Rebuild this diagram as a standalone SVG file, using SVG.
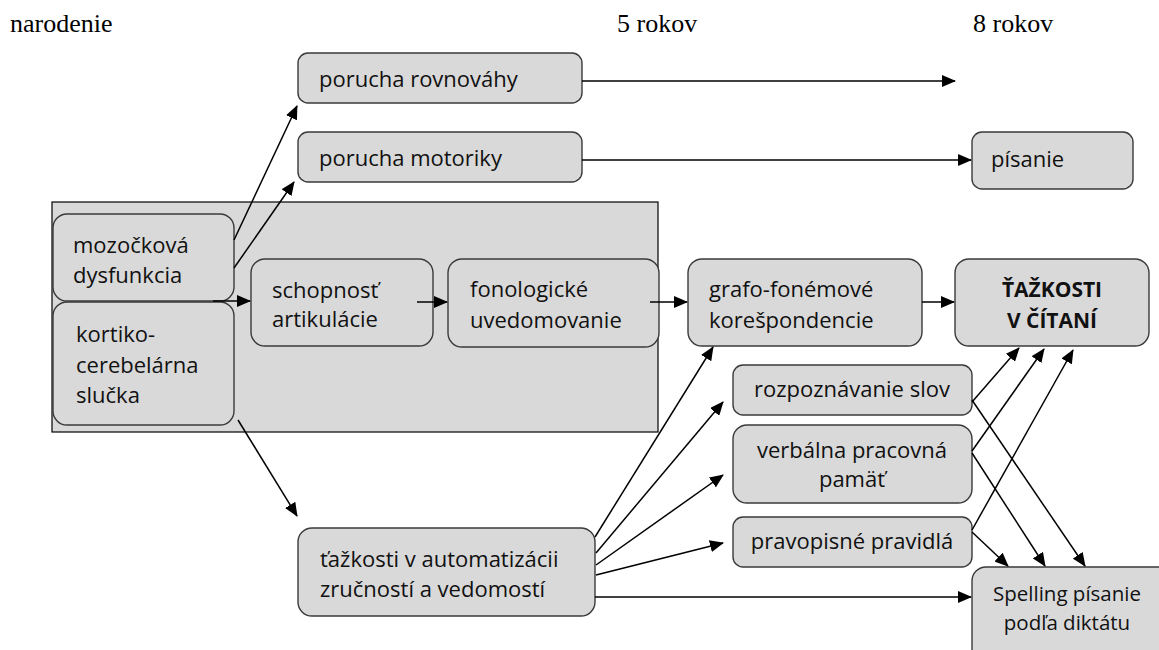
<svg xmlns="http://www.w3.org/2000/svg" width="1159" height="650" viewBox="0 0 1159 650">
<defs>
<marker id="ah" markerUnits="userSpaceOnUse" markerWidth="14" markerHeight="12" refX="13" refY="6" orient="auto">
<path d="M0,0 L14,6 L0,12 z" fill="#000"/>
</marker>
<style>
.box{fill:#d9d9d9;stroke:#3a3a3a;stroke-width:1.4}
.t{font-family:"Open Sans","Liberation Sans",sans-serif;font-size:22px;fill:#111}
.c{text-anchor:middle}
.b{font-weight:bold;font-size:21px}
.s{font-size:20.5px}
.h{font-family:"Liberation Serif","Times New Roman",serif;font-size:26px;fill:#000}
.ln{stroke:#000;stroke-width:1.5;fill:none;marker-end:url(#ah)}
</style>
</defs>
<rect width="1159" height="650" fill="#fff"/>
<text class="h" x="10" y="32">narodenie</text>
<text class="h" x="617" y="32">5 rokov</text>
<text class="h" x="973" y="32">8 rokov</text>
<g id="frame"><rect x="52" y="202" width="606" height="230" fill="#d9d9d9" stroke="#000" stroke-width="1.2"/></g>
<g id="n-rovnovahy"><rect class="box" x="298" y="53" width="284" height="50" rx="10"/><text class="t" x="319" y="87">porucha rovnováhy</text></g>
<g id="n-motoriky"><rect class="box" x="298" y="132" width="284" height="50" rx="10"/><text class="t" x="319" y="166">porucha motoriky</text></g>
<g id="n-pisanie"><rect class="box" x="972" y="132" width="161" height="57" rx="10"/><text class="t" x="991" y="167">písanie</text></g>
<g id="n-mozockova"><rect class="box" x="53" y="214" width="181" height="87" rx="14"/><text class="t" x="73" y="253">mozočková</text><text class="t" x="73" y="283">dysfunkcia</text></g>
<g id="n-kortiko"><rect class="box" x="53" y="302" width="181" height="123" rx="14"/><text class="t" x="76" y="342">kortiko-</text><text class="t" x="76" y="373">cerebelárna</text><text class="t" x="76" y="403">slučka</text></g>
<g id="n-schopnost"><rect class="box" x="251" y="259" width="182" height="87" rx="14"/><text class="t" x="272" y="298">schopnosť</text><text class="t" x="272" y="327">artikulácie</text></g>
<g id="n-fonologicke"><rect class="box" x="448" y="259" width="211" height="88" rx="14"/><text class="t" x="470" y="297">fonologické</text><text class="t" x="470" y="328">uvedomovanie</text></g>
<g id="n-grafo"><rect class="box" x="688" y="259" width="234" height="87" rx="14"/><text class="t" x="709" y="297">grafo-fonémové</text><text class="t" x="709" y="328">korešpondencie</text></g>
<g id="n-tazkosti-citani"><rect class="box" x="955" y="259" width="194" height="87" rx="14"/><text class="t c b" x="1052" y="297">ŤAŽKOSTI</text><text class="t c b" x="1052" y="328">V ČÍTANÍ</text></g>
<g id="n-rozpoznavanie"><rect class="box" x="733" y="365" width="239" height="50" rx="10"/><text class="t c" x="852" y="397">rozpoznávanie slov</text></g>
<g id="n-verbalna"><rect class="box" x="733" y="425" width="239" height="78" rx="14"/><text class="t c" x="852" y="458">verbálna pracovná</text><text class="t c" x="852" y="487">pamäť</text></g>
<g id="n-pravopisne"><rect class="box" x="733" y="517" width="239" height="50" rx="10"/><text class="t c" x="852" y="549">pravopisné pravidlá</text></g>
<g id="n-automatizacia"><rect class="box" x="298" y="528" width="297" height="88" rx="14"/><text class="t" x="320" y="567">ťažkosti v automatizácii</text><text class="t" x="320" y="597">zručností a vedomostí</text></g>
<g id="n-spelling"><rect class="box" x="972" y="567" width="200" height="100" rx="14"/><text class="t c s" x="1067" y="601">Spelling písanie</text><text class="t c s" x="1067" y="630">podľa diktátu</text></g>
<g id="connectors">
<line class="ln" x1="234" y1="240" x2="297" y2="106"/>
<line class="ln" x1="234" y1="268" x2="294" y2="182"/>
<line class="ln" x1="582" y1="81" x2="955" y2="81"/>
<line class="ln" x1="582" y1="160" x2="971" y2="160"/>
<line class="ln" x1="213" y1="301" x2="250" y2="301"/>
<line class="ln" x1="417" y1="302" x2="447" y2="302"/>
<line class="ln" x1="650" y1="302" x2="687" y2="302"/>
<line class="ln" x1="922" y1="302" x2="954" y2="302"/>
<line class="ln" x1="238" y1="420" x2="297" y2="516"/>
<line class="ln" x1="595" y1="537" x2="713" y2="347"/>
<line class="ln" x1="596" y1="553" x2="723" y2="402"/>
<line class="ln" x1="596" y1="565" x2="723" y2="475"/>
<line class="ln" x1="596" y1="575" x2="723" y2="543"/>
<line class="ln" x1="595" y1="597" x2="971" y2="597"/>
<line class="ln" x1="972" y1="402" x2="1019" y2="348"/>
<line class="ln" x1="972" y1="451" x2="1044" y2="349"/>
<line class="ln" x1="972" y1="530" x2="1073" y2="350"/>
<line class="ln" x1="972" y1="400" x2="1085" y2="566"/>
<line class="ln" x1="972" y1="453" x2="1045" y2="566"/>
<line class="ln" x1="972" y1="532" x2="1008" y2="566"/>
</g>
</svg>
